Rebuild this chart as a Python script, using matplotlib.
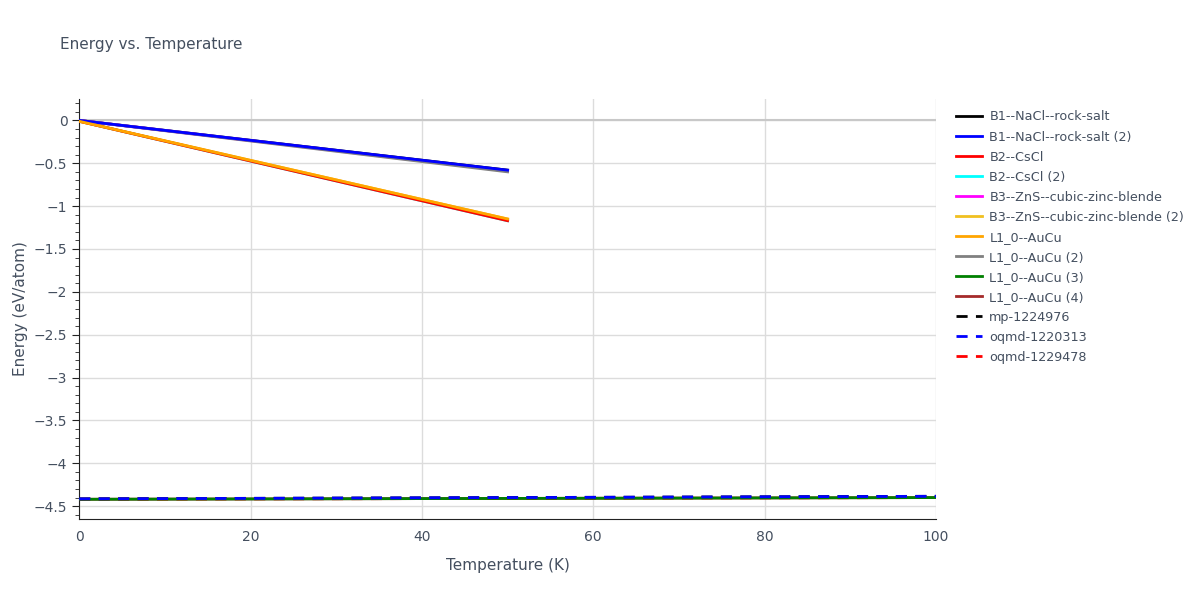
import numpy as np
import matplotlib.pyplot as plt

# temperatures (K)
t_short = [0, 50]
t_long = [0, 100]

# energies (eV/atom)
b1_nacl = [0.0, -0.58]
b1_nacl_2 = [0.0, -0.58]
b2_cscl = [-0.01, -1.17]
b2_cscl_2 = [-0.01, -1.17]
b3_zns = [0.0, -0.59]
b3_zns_2 = [-0.01, -1.15]
l10_aucu = [-0.01, -1.15]
l10_aucu_2 = [0.0, -0.60]
l10_aucu_3 = [-4.42, -4.40]
l10_aucu_4 = [-4.42, -4.40]
mp_1224976 = [-4.415, -4.385]
oqmd_1220313 = [-4.415, -4.385]
oqmd_1229478 = [-4.42, -4.40]

series = [
    ("B1--NaCl--rock-salt", t_short, b1_nacl, "black", "-"),
    ("B1--NaCl--rock-salt (2)", t_short, b1_nacl_2, "blue", "-"),
    ("B2--CsCl", t_short, b2_cscl, "red", "-"),
    ("B2--CsCl (2)", t_short, b2_cscl_2, "cyan", "-"),
    ("B3--ZnS--cubic-zinc-blende", t_short, b3_zns, "magenta", "-"),
    ("B3--ZnS--cubic-zinc-blende (2)", t_short, b3_zns_2, "#f0c020", "-"),
    ("L1_0--AuCu", t_short, l10_aucu, "orange", "-"),
    ("L1_0--AuCu (2)", t_short, l10_aucu_2, "gray", "-"),
    ("L1_0--AuCu (3)", t_long, l10_aucu_3, "green", "-"),
    ("L1_0--AuCu (4)", t_long, l10_aucu_4, "brown", "-"),
    ("mp-1224976", t_long, mp_1224976, "black", "--"),
    ("oqmd-1220313", t_long, oqmd_1220313, "blue", "--"),
    ("oqmd-1229478", t_long, oqmd_1229478, "red", "--"),
]

# plotting order so the visible lines end up on top as in the reference
z = {"B2--CsCl (2)": 2, "B3--ZnS--cubic-zinc-blende (2)": 2,
     "B1--NaCl--rock-salt (2)": 5, "L1_0--AuCu (2)": 4, "B2--CsCl": 4,
     "L1_0--AuCu": 5, "L1_0--AuCu (3)": 4, "oqmd-1220313": 6}

fig, ax = plt.subplots(figsize=(12, 6), dpi=100)
fig.subplots_adjust(left=0.066, right=0.78, top=0.835, bottom=0.135)
text_c = "#444f5f"

for name, x, y, c, ls in series:
    ax.plot(x, y, color=c, ls=ls, lw=2, label=name, zorder=z.get(name, 3),
            dashes=(4, 3) if ls == "--" else (None, None))

ax.axhline(0, color="#c8c8c8", lw=1.5, zorder=1)
ax.set_xlim(0, 100)
ax.set_ylim(-4.65, 0.25)
ax.set_xticks([0, 20, 40, 60, 80, 100])
ax.set_yticks(np.arange(0, -4.51, -0.5))
ax.set_yticklabels(["0"] + [f"\u2212{abs(v):g}" for v in np.arange(-0.5, -4.51, -0.5)])
ax.set_yticks(np.arange(0.2, -4.65, -0.1), minor=True)
ax.grid(True, color="#dcdcdc", lw=1)
ax.set_axisbelow(True)
for s in ["top", "right"]:
    ax.spines[s].set_visible(False)
ax.spines["left"].set_color("#222222")
ax.spines["bottom"].set_color("#222222")
ax.tick_params(colors=text_c, labelsize=10)
ax.tick_params(axis="x", length=0, pad=8)
ax.tick_params(axis="y", which="major", length=5, color="#222222")
ax.tick_params(axis="y", which="minor", length=3, color="#222222")
ax.set_xlabel("Temperature (K)", color=text_c, fontsize=11, labelpad=10)
ax.set_ylabel("Energy (eV/atom)", color=text_c, fontsize=11)
fig.text(0.05, 0.918, "Energy vs. Temperature", color=text_c, fontsize=11)

leg = ax.legend(loc="upper left", bbox_to_anchor=(1.01, 1.0), frameon=False,
                fontsize=9.2, handlelength=2.0, handletextpad=0.6,
                labelspacing=0.55)
for t in leg.get_texts():
    t.set_color(text_c)

fig.savefig("out.png")
